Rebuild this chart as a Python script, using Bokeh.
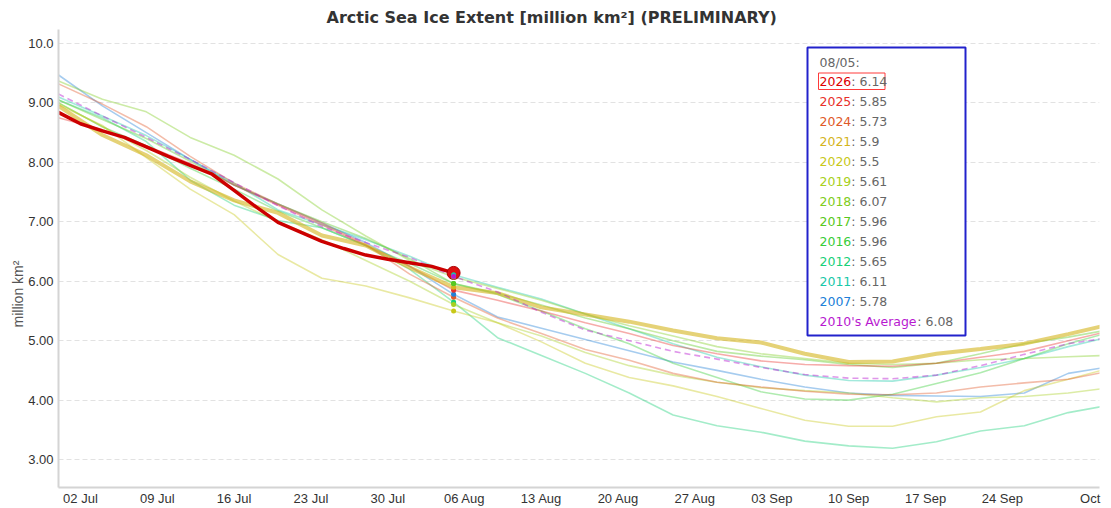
import math
from bokeh.plotting import figure
from bokeh.models import Range1d, FixedTicker, Label, BoxAnnotation, Title
from bokeh.embed import file_html
from bokeh.resources import INLINE

# ---------------- data (day 0 = 30 Jun) ----------------
days = [0, 4, 8, 12, 16, 20, 24, 28, 32, 36, 40, 44, 48, 52, 56, 60, 64, 68, 72, 76, 80, 84, 88, 92, 95]
days_2026 = [0, 2, 4, 6, 8, 10, 12, 14, 16, 18, 20, 22, 24, 26, 28, 30, 32, 34, 36]

ext_2026 = [8.84, 8.65, 8.53, 8.42, 8.26, 8.10, 7.95, 7.80, 7.53, 7.25, 6.99, 6.83, 6.67, 6.55, 6.44, 6.37, 6.31, 6.25, 6.14]
ext_2025 = [8.75, 8.55, 8.28, 7.98, 7.62, 7.28, 6.95, 6.60, 6.25, 5.85, 5.68, 5.50, 5.30, 5.12, 4.92, 4.78, 4.66, 4.60, 4.58, 4.57, 4.62, 4.72, 4.82, 5.00, 5.13]
ext_2024 = [9.32, 8.98, 8.60, 8.10, 7.65, 7.30, 6.98, 6.62, 6.12, 5.73, 5.38, 5.12, 4.85, 4.67, 4.45, 4.30, 4.22, 4.15, 4.10, 4.09, 4.12, 4.22, 4.29, 4.35, 4.46]
ext_2021 = [8.95, 8.46, 8.12, 7.68, 7.36, 7.15, 6.77, 6.60, 6.23, 5.90, 5.80, 5.56, 5.44, 5.32, 5.17, 5.04, 4.97, 4.78, 4.64, 4.65, 4.78, 4.86, 4.95, 5.11, 5.24]
ext_2020 = [8.97, 8.62, 8.08, 7.55, 7.12, 6.45, 6.05, 5.92, 5.72, 5.50, 5.30, 4.98, 4.62, 4.38, 4.24, 4.06, 3.86, 3.66, 3.56, 3.56, 3.72, 3.80, 4.16, 4.35, 4.50]
ext_2019 = [9.00, 8.60, 8.20, 7.75, 7.35, 7.00, 6.70, 6.35, 6.00, 5.61, 5.30, 5.08, 4.80, 4.58, 4.42, 4.30, 4.21, 4.16, 4.12, 4.04, 3.97, 4.04, 4.06, 4.12, 4.19]
ext_2018 = [9.37, 9.06, 8.85, 8.42, 8.12, 7.72, 7.20, 6.76, 6.35, 6.07, 5.88, 5.68, 5.45, 5.25, 5.08, 4.90, 4.78, 4.70, 4.62, 4.60, 4.62, 4.68, 4.70, 4.73, 4.75]
ext_2017 = [9.05, 8.72, 8.40, 8.02, 7.62, 7.30, 7.00, 6.72, 6.38, 5.96, 5.80, 5.60, 5.38, 5.20, 5.00, 4.82, 4.74, 4.68, 4.60, 4.55, 4.62, 4.78, 4.95, 5.06, 5.16]
ext_2016 = [9.00, 8.60, 8.28, 7.90, 7.55, 7.18, 6.90, 6.60, 6.30, 5.96, 5.78, 5.50, 5.20, 4.95, 4.62, 4.38, 4.14, 4.02, 4.00, 4.10, 4.28, 4.46, 4.70, 4.95, 5.10]
ext_2012 = [9.05, 8.75, 8.35, 7.70, 7.28, 7.02, 6.90, 6.60, 6.20, 5.65, 5.05, 4.75, 4.45, 4.12, 3.75, 3.57, 3.46, 3.31, 3.23, 3.19, 3.30, 3.48, 3.57, 3.79, 3.89]
ext_2011 = [9.10, 8.78, 8.45, 8.05, 7.65, 7.20, 6.95, 6.70, 6.42, 6.11, 5.90, 5.70, 5.45, 5.20, 4.95, 4.72, 4.56, 4.42, 4.33, 4.32, 4.42, 4.55, 4.70, 4.90, 5.03]
ext_2007 = [9.47, 8.95, 8.50, 8.05, 7.62, 7.30, 6.98, 6.65, 6.25, 5.78, 5.40, 5.21, 5.02, 4.83, 4.64, 4.50, 4.35, 4.22, 4.12, 4.08, 4.07, 4.06, 4.12, 4.45, 4.54]
ext_avg2010s = [9.15, 8.78, 8.42, 8.05, 7.66, 7.27, 6.92, 6.65, 6.40, 6.08, 5.82, 5.48, 5.18, 5.00, 4.82, 4.69, 4.55, 4.43, 4.37, 4.36, 4.42, 4.58, 4.77, 4.95, 5.03]

series_names = ["2026", "2025", "2024", "2021", "2020", "2019", "2018", "2017", "2016", "2012", "2011", "2007", "2010's Average"]
series_colors = ["#dd0000", "#e8302a", "#e05828", "#d4b41c", "#c8c818", "#a8d020", "#80cc20",
                 "#58c820", "#38cc38", "#18d078", "#18c8a8", "#2080d8", "#b818d0"]

x_tick_days = [2, 9, 16, 23, 30, 37, 44, 51, 58, 65, 72, 79, 86, 94]
x_tick_labels = ["02 Jul", "09 Jul", "16 Jul", "23 Jul", "30 Jul", "06 Aug", "13 Aug", "20 Aug",
                 "27 Aug", "03 Sep", "10 Sep", "17 Sep", "24 Sep", "Oct"]
y_ticks = [3, 4, 5, 6, 7, 8, 9, 10]
y_tick_labels = ["3.00", "4.00", "5.00", "6.00", "7.00", "8.00", "9.00", "10.0"]

hover_day = 36
hover_label = "08/05:"
title_text = "Arctic Sea Ice Extent [million km\u00b2] (PRELIMINARY)"
y_label_text = "million km\u00b2"

# ---------------- figure ----------------
FL, FB = 58.0, 488.0  # frame left / bottom in page px
p = figure(width=1103, height=508, x_range=Range1d(0, 94.85), y_range=Range1d(2.53, 10.235),
           output_backend="svg", toolbar_location=None,
           min_border_left=58, min_border_right=4, min_border_bottom=20, min_border_top=29)
p.background_fill_color = "white"
p.border_fill_color = "white"
p.outline_line_color = None

p.title.text = title_text
p.title.text_font = "DejaVu Sans"
p.title.text_font_size = "16px"
p.title.text_font_style = "bold"
p.title.text_color = "#333333"
p.title.align = "left"
p.title.offset = 268
p.title.standoff = 5

TICK_FONT = "Liberation Sans"
p.xaxis.ticker = FixedTicker(ticks=x_tick_days)
p.xaxis.major_label_overrides = {d: l for d, l in zip(x_tick_days, x_tick_labels)}
p.yaxis.ticker = FixedTicker(ticks=y_ticks)
p.yaxis.major_label_overrides = {t: l for t, l in zip(y_ticks, y_tick_labels)}
for ax in (p.xaxis, p.yaxis):
    ax.axis_line_color = "#d4d4d4"
    ax.axis_line_width = 2
    ax.major_tick_line_color = None
    ax.minor_tick_line_color = None
    ax.major_tick_out = 0
    ax.major_tick_in = 0
    ax.minor_tick_out = 0
    ax.minor_tick_in = 0
    ax.major_label_text_font = TICK_FONT
    ax.major_label_text_font_size = "13px"
    ax.major_label_text_color = "#333333"
p.xaxis.major_label_standoff = 3
p.yaxis.major_label_standoff = 5

p.add_layout(Title(text=y_label_text, align="left", offset=160, text_font=TICK_FONT,
                   text_font_size="14px", text_font_style="normal", text_color="#555555",
                   standoff=0), "left")

p.xgrid.grid_line_color = None
p.ygrid.grid_line_color = "#e2e2e2"
p.ygrid.grid_line_dash = "5 3"
p.ygrid.grid_line_width = 1

# ---------------- lines ----------------
values = {"2025": ext_2025, "2024": ext_2024, "2021": ext_2021, "2020": ext_2020, "2019": ext_2019,
          "2018": ext_2018, "2017": ext_2017, "2016": ext_2016, "2012": ext_2012, "2011": ext_2011,
          "2007": ext_2007, "2010's Average": ext_avg2010s}
color_of = dict(zip(series_names, series_colors))

for name in ["2007", "2011", "2012", "2016", "2017", "2018", "2019", "2020", "2024", "2025"]:
    p.line(days, values[name], line_color=color_of[name], line_alpha=0.4, line_width=1.6)

p.line(days, ext_2021, line_color=color_of["2021"], line_alpha=0.6, line_width=4)
p.line(days, ext_avg2010s, line_color=color_of["2010's Average"], line_alpha=0.45,
       line_width=1.6, line_dash="6 4")
p.line(days_2026, ext_2026, line_color="#cc0000", line_width=3.5)

# hover markers at 08/05
hi = days.index(hover_day)
p.scatter([days_2026[-1]], [ext_2026[-1]], size=13, fill_color="#dd1010", line_color="#aa0000", line_width=1)
for name in ["2020", "2012", "2019", "2024", "2007", "2025", "2021", "2016", "2017", "2018", "2011", "2010's Average"]:
    p.scatter([hover_day], [values[name][hi]], size=5, fill_color=color_of[name], line_color=None)

# ---------------- tooltip box ----------------
def sx(px):
    return px - FL


def sy(py):
    return FB - py


p.add_layout(BoxAnnotation(left=sx(807), right=sx(965), top=sy(48), bottom=sy(336),
                           left_units="screen", right_units="screen", top_units="screen", bottom_units="screen",
                           fill_color="white", fill_alpha=1.0, line_color="#2222cc", line_alpha=1.0, line_width=2))
p.add_layout(BoxAnnotation(left=sx(818), right=sx(884.5), top=sy(73.5), bottom=sy(90),
                           left_units="screen", right_units="screen", top_units="screen", bottom_units="screen",
                           fill_alpha=0, line_color="#ff3a3a", line_alpha=1.0, line_width=1))

W = {d: 0.636 for d in "0123456789"}
W.update({":": 0.337, " ": 0.318, "'": 0.275, ".": 0.318, "s": 0.521, "A": 0.684, "v": 0.592,
          "e": 0.615, "r": 0.411, "a": 0.613, "g": 0.635, "/": 0.337})
TT_SIZE = 12.5
TT_FONT = "DejaVu Sans"


def text_w(s):
    return sum(W.get(c, 0.6) for c in s) * TT_SIZE


def fmt(v):
    return ("%.2f" % v).rstrip("0").rstrip(".")


tx = 819.0
p.add_layout(Label(x=sx(tx), y=sy(62.7), x_units="screen", y_units="screen", text=hover_label,
                   text_font=TT_FONT, text_font_size="%gpx" % TT_SIZE, text_color="#666666",
                   text_baseline="middle", text_align="left"))
hover_vals = [ext_2026[-1]] + [values[n][hi] for n in series_names[1:]]
for i, (name, col, v) in enumerate(zip(series_names, series_colors, hover_vals)):
    yy = sy(82.3 + 20 * i)
    p.add_layout(Label(x=sx(tx), y=yy, x_units="screen", y_units="screen", text=name,
                       text_font=TT_FONT, text_font_size="%gpx" % TT_SIZE, text_color=col,
                       text_baseline="middle", text_align="left"))
    p.add_layout(Label(x=sx(tx) + text_w(name), y=yy, x_units="screen", y_units="screen",
                       text=": " + fmt(v), text_font=TT_FONT, text_font_size="%gpx" % TT_SIZE,
                       text_color="#666666", text_baseline="middle", text_align="left"))

open("out.html", "w").write(file_html(p, INLINE))
